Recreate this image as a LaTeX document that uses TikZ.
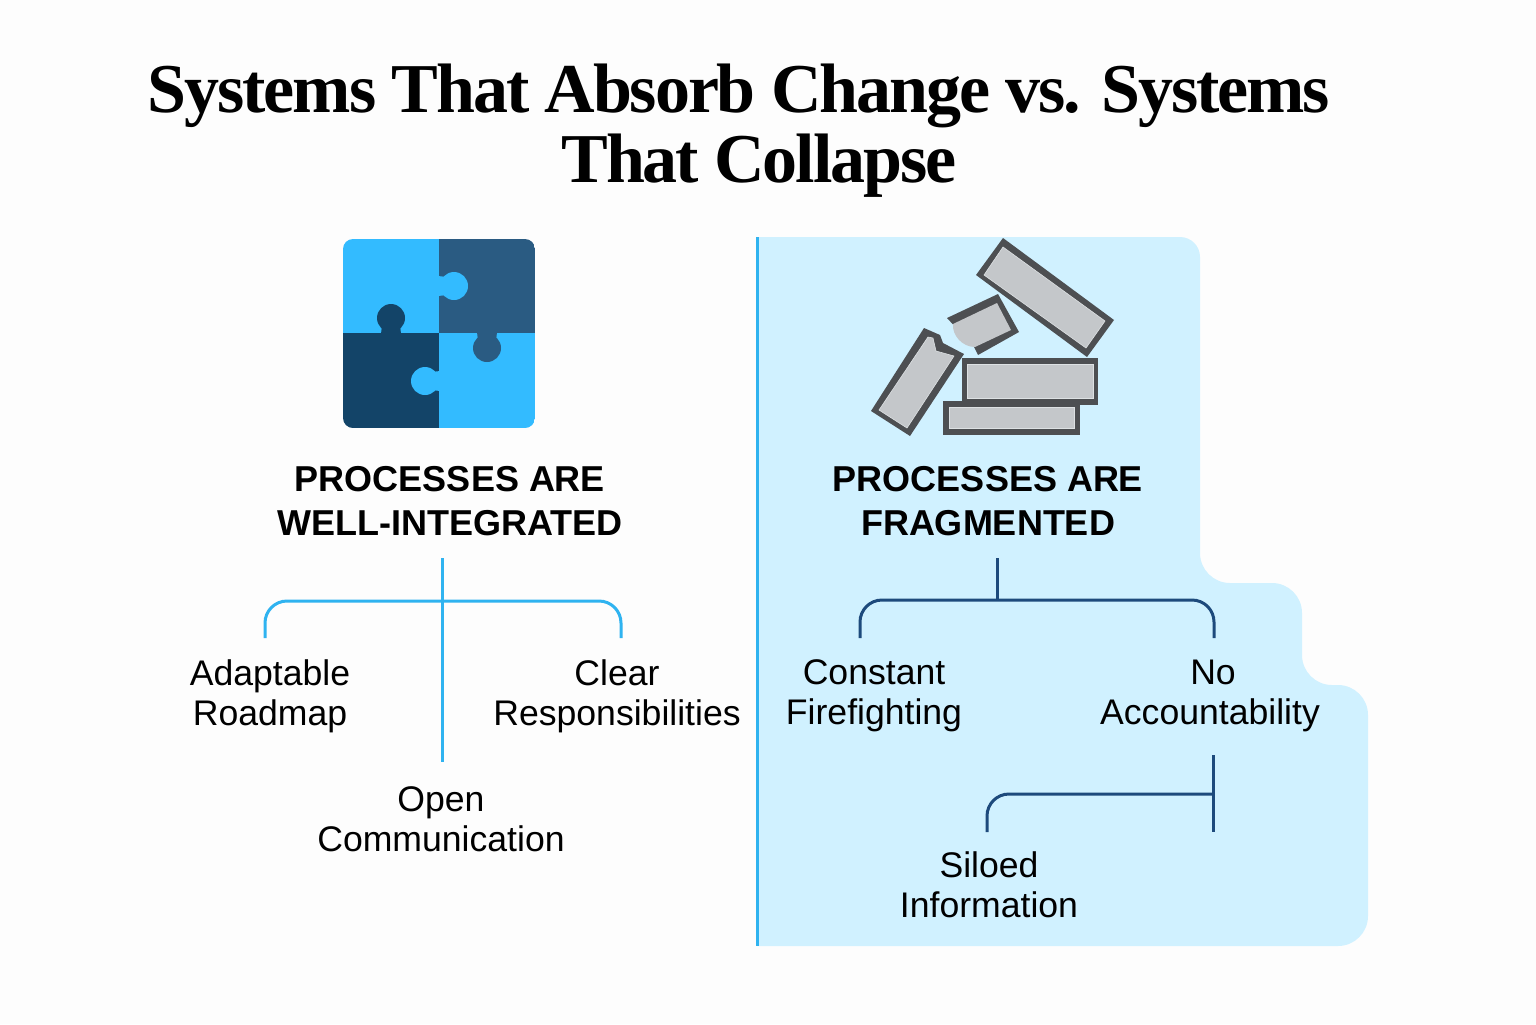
\documentclass[tikz,border=0pt]{standalone}
\usepackage{fontspec}
\usepackage{xcolor}
\setmainfont{Liberation Sans}
\newfontfamily\titlefont[LetterSpace=-3]{Liberation Serif}
\definecolor{pagewhite}{HTML}{FDFDFD}
\definecolor{panelblue}{HTML}{D0F1FF}
\definecolor{skyblue}{HTML}{33BBFF}
\definecolor{slateblue}{HTML}{2A5B82}
\definecolor{deepblue}{HTML}{134468}
\definecolor{navyline}{HTML}{1D4A7C}
\definecolor{edgeblue}{HTML}{2FB3F0}
\definecolor{rubbledark}{HTML}{4D4F52}
\definecolor{rubblegray}{HTML}{C4C7CA}
\definecolor{rubbleedge}{HTML}{DDE1E3}
\tikzset{
  heading/.style={align=center,font=\fontsize{18}{22}\selectfont\bfseries},
  leaf/.style={align=center,font=\fontsize{17.8}{20}\selectfont},
  bracketlight/.style={edgeblue,line width=1.5pt,rounded corners=11pt},
  bracketdark/.style={navyline,line width=1.5pt,rounded corners=11pt},
  rubbleface/.style={fill=rubblegray,draw=rubbleedge,line width=0.3pt}
}
\begin{document}
\begin{tikzpicture}[x=0.5pt,y=-0.5pt]
\useasboundingbox[fill=pagewhite] (0,0) rectangle (1536,1024);

\node[align=center,font=\fontsize{35}{35}\selectfont\titlefont\bfseries] (title) at (739,131)
  {Systems That Absorb Change vs. Systems\\\hspace*{20pt}That Collapse};

\fill[panelblue] (757,237) [rounded corners=10pt] -- (1200,237) [rounded corners=15pt] -- (1200,583)
  -- (1302,583) -- (1302,685) -- (1368,685) -- (1368,946) [sharp corners] -- (757,946) -- cycle;
\draw[edgeblue,line width=1.5pt] (757,237) coordinate(edgetop) -- (757,946) coordinate(edgebottom);

\begin{scope}
\clip[rounded corners=5pt] (343,239) rectangle (535,428);
\fill[skyblue] (343,239) rectangle (439,333);
\fill[slateblue] (439,239) rectangle (535,333);
\fill[deepblue] (343,333) rectangle (439,428);
\fill[skyblue] (439,333) rectangle (535,428);
\end{scope}
\fill[skyblue] (454,286) circle[radius=14];
\fill[skyblue] (438,276) -- (447,277) -- (447,295) -- (438,296) -- cycle;
\fill[deepblue] (391,318) circle[radius=14];
\fill[deepblue] (381,334) -- (382,325) -- (400,325) -- (401,334) -- cycle;
\fill[slateblue] (487,348) circle[radius=14];
\fill[slateblue] (477,332) -- (478,341) -- (496,341) -- (497,332) -- cycle;
\fill[skyblue] (425,381) circle[radius=14];
\fill[skyblue] (440,371) -- (432,372) -- (432,390) -- (440,391) -- cycle;

\fill[rubbledark] (1003,238) -- (1114,320) -- (1087,357) -- (976,275) -- cycle;
\filldraw[rubbleface] (1003,247) -- (1105,321) -- (1086,348) -- (984,275) -- cycle;
\fill[rubbledark] (943,401) rectangle (1080,435);
\filldraw[rubbleface] (949,407) rectangle (1074,428);
\fill[rubbledark] (962,358) rectangle (1098,405);
\filldraw[rubbleface] (967,364) rectangle (1093,398);
\fill[rubbledark] (924,328) -- (940,335) -- (943,343) -- (964,354) -- (910,436) -- (871,411) -- cycle;
\filldraw[rubbleface] (928,337) -- (933,338) -- (936,351) -- (954,356) -- (907,428) -- (879,410) -- cycle;
\fill[rubbledark] (947,318) -- (998,294) -- (1019,332) -- (978,355) -- (974,347) -- cycle;
\fill[rubblegray] (953,324) -- (997,303) -- (1011,330) -- (975,347) .. controls (962,347) and (952,335) .. (953,324) -- cycle;

\node[heading] (headleft) at (450,501) {PROCESSES ARE\\WELL-INTEGRATED};
\node[heading] (headright) at (988,501) {PROCESSES ARE\\FRAGMENTED};

\node[leaf] (roadmap) at (270,696) {Adaptable\\Roadmap};
\node[leaf] (clear) at (617,696) {Clear\\Responsibilities};
\node[leaf] (open) at (441,819) {Open\\Communication};
\node[leaf] (firefighting) at (874,696) {Constant\\Firefighting};
\node[leaf] (noaccount) at (1210,696) {\hspace*{3pt}No\\Accountability};
\node[leaf] (siloed) at (989,885) {Siloed\\Information};

\coordinate (stemL) at (442,558);
\coordinate (footL) at (442,762);
\coordinate (jointL) at (442,601);
\coordinate (legroadmap) at (265,638);
\coordinate (legclear) at (621,638);
\draw[bracketlight] (legroadmap) |- (jointL) -| (legclear);
\draw[bracketlight] (stemL) -- (footL);

\coordinate (stemR) at (997,558);
\coordinate (jointR) at (997,600);
\coordinate (legfire) at (860,638);
\coordinate (legno) at (1214,638);
\draw[bracketdark] (legfire) |- (jointR) -| (legno);
\draw[bracketdark] (stemR) -- (jointR);

\coordinate (stemS) at (1213,755);
\coordinate (footS) at (1213,832);
\coordinate (jointS) at (1213,794);
\coordinate (legsiloed) at (987,832);
\draw[bracketdark] (legsiloed) |- (jointS);
\draw[bracketdark] (stemS) -- (footS);
\end{tikzpicture}
\end{document}
